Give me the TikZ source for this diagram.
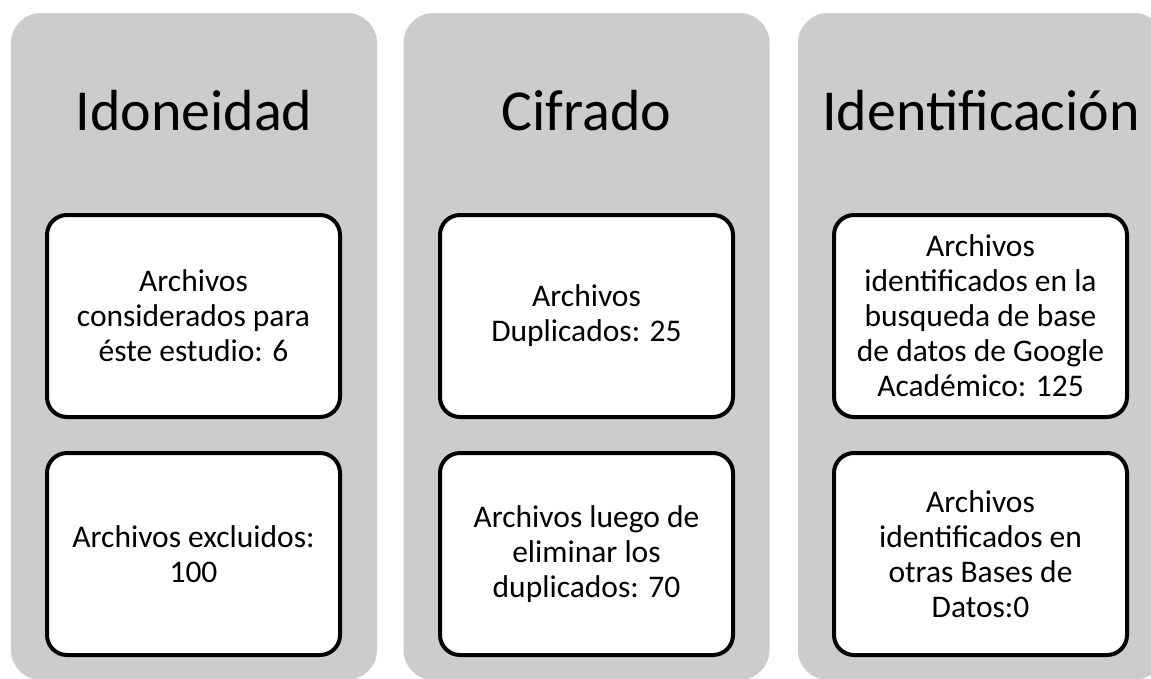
\documentclass[tikz,border=0pt]{standalone}
\usepackage{fontspec}
\setmainfont{Carlito}
\usetikzlibrary{positioning}
\definecolor{colgray}{RGB}{204,204,204}

\begin{document}
\begin{tikzpicture}[x=1pt,y=-1pt,
  column/.style={fill=colgray, rounded corners=30pt, minimum width=366pt, minimum height=667pt, inner sep=0pt},
  coltitle/.style={anchor=base, font=\fontsize{58}{70}\selectfont},
  filebox/.style={draw, fill=white, line width=4pt, rounded corners=20pt, minimum width=293pt, minimum height=202pt, align=center, font=\fontsize{31.5}{35}\selectfont}]
\clip (0,0) rectangle (1151,678);
\fill[white] (0,0) rectangle (1151,678);

% columns
\node[column] (colA) at (194,346.5) {};
\node[column] (colB) at (586.5,346.5) {};
\node[column] (colC) at (981,346.5) {};

\node[coltitle] (titleA) at (194,130) {Idoneidad};
\node[coltitle] (titleB) at (586.5,130) {Cifrado};
\node[coltitle] (titleC) at (981,130) {Identificación};

% boxes
\node[filebox] (boxA) at (193.5,316) {Archivos\\considerados para\\éste estudio: 6};
\node[filebox, below=32pt of boxA] (boxAA) {Archivos excluidos:\\100};

\node[filebox] (boxB) at (586.5,316) {Archivos\\Duplicados: 25};
\node[filebox, below=32pt of boxB] (boxBB) {Archivos luego de\\eliminar los\\duplicados: 70};

\node[filebox] (boxC) at (980.5,316) {Archivos\\identificados en la\\busqueda de base\\de datos de Google\\Académico: 125};
\node[filebox, below=32pt of boxC] (boxCC) {Archivos\\identificados en\\otras Bases de\\Datos:0};
\end{tikzpicture}
\end{document}
